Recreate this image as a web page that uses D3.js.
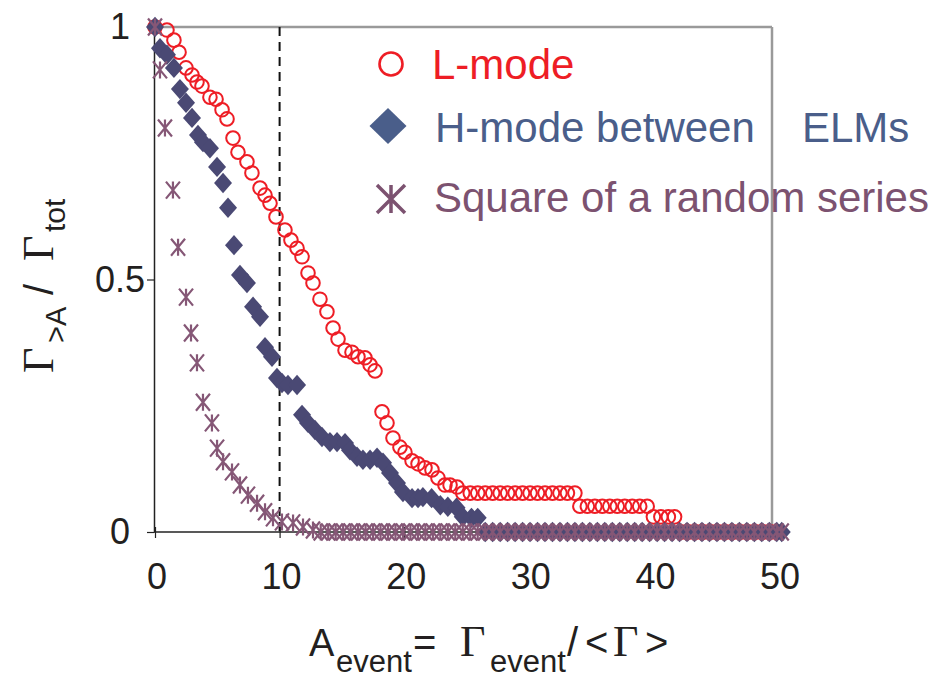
<!DOCTYPE html>
<html>
<head>
<meta charset="utf-8">
<script src="https://cdn.jsdelivr.net/npm/d3@7"></script>
<style>
  body { margin: 0; background: #fff; }
  svg { display: block; font-family: "Liberation Sans", Arial, sans-serif; }
</style>
</head>
<body>
<div id="chart"></div>
<script>
// data: [A_event, fraction]
const lMode = [
  [0, 1.0], [0.96, 0.994], [1.52, 0.974], [1.93, 0.95], [2.49, 0.919], [2.97, 0.905],
  [3.37, 0.891], [3.77, 0.883], [4.41, 0.861], [4.9, 0.857], [5.38, 0.836], [5.78, 0.818],
  [6.26, 0.78], [6.66, 0.752], [7.38, 0.733], [7.78, 0.711], [8.43, 0.681], [8.83, 0.667],
  [9.23, 0.651], [9.71, 0.624], [10.43, 0.598], [10.91, 0.578], [11.4, 0.562], [11.8, 0.545],
  [12.28, 0.513], [12.68, 0.493], [13.24, 0.461], [13.8, 0.436], [14.29, 0.404], [14.69, 0.382],
  [15.25, 0.36], [15.81, 0.356], [16.29, 0.347], [16.85, 0.345], [17.26, 0.331], [17.66, 0.319],
  [18.22, 0.238], [18.62, 0.216], [19.1, 0.186], [19.66, 0.168], [20.06, 0.158], [20.63, 0.141],
  [21.11, 0.135], [21.67, 0.127], [22.23, 0.123], [22.71, 0.107], [23.27, 0.093], [23.68, 0.093],
  [24.24, 0.089], [24.7, 0.077], [25.3, 0.077], [25.9, 0.077], [26.5, 0.077], [27.1, 0.077],
  [27.7, 0.077], [28.3, 0.077], [28.9, 0.077], [29.5, 0.077], [30.1, 0.077], [30.7, 0.077],
  [31.3, 0.077], [31.9, 0.077], [32.5, 0.077], [33.1, 0.077], [33.7, 0.077], [34.1, 0.051],
  [34.7, 0.051], [35.3, 0.051], [35.9, 0.051], [36.5, 0.051], [37.1, 0.051], [37.7, 0.051],
  [38.3, 0.051], [38.9, 0.051], [39.5, 0.051], [40.0, 0.03], [40.6, 0.03], [41.2, 0.03],
  [41.7, 0.03], [42.3, 0], [42.9, 0], [43.5, 0], [44.1, 0], [44.7, 0], [45.3, 0], [45.9, 0],
  [46.5, 0], [47.1, 0], [47.7, 0], [48.3, 0], [48.9, 0], [49.5, 0], [50, 0]
];

const hMode = [
  [0, 1.0], [0.4, 0.958], [0.96, 0.945], [1.52, 0.919], [2.0, 0.877], [2.49, 0.85],
  [2.97, 0.82], [3.45, 0.786], [3.85, 0.772], [4.41, 0.76], [4.98, 0.723], [5.46, 0.691],
  [5.86, 0.642], [6.34, 0.568], [6.82, 0.509], [7.38, 0.493], [7.87, 0.446], [8.43, 0.426],
  [8.83, 0.366], [9.39, 0.347], [9.79, 0.305], [10.19, 0.295], [10.67, 0.291], [11.4, 0.291],
  [11.8, 0.232], [12.28, 0.216], [12.84, 0.202], [13.4, 0.188], [14.04, 0.178], [14.61, 0.178],
  [15.25, 0.176], [15.65, 0.162], [16.21, 0.149], [16.69, 0.143], [17.26, 0.143], [17.82, 0.147],
  [18.3, 0.137], [18.86, 0.117], [19.42, 0.097], [19.9, 0.079], [20.63, 0.067], [21.11, 0.067],
  [21.5, 0.069], [22.2, 0.067], [22.9, 0.053], [23.5, 0.05], [24.2, 0.048], [24.7, 0.03],
  [25.4, 0.028], [25.9, 0.028], [26.5, 0], [27.1, 0], [27.7, 0], [28.3, 0], [28.9, 0],
  [29.5, 0], [30.1, 0], [30.7, 0], [31.3, 0], [31.9, 0], [32.5, 0], [33.1, 0], [33.7, 0],
  [34.3, 0], [34.9, 0], [35.5, 0], [36.1, 0], [36.7, 0], [37.3, 0], [37.9, 0], [38.5, 0],
  [39.1, 0], [39.7, 0], [40.3, 0], [40.9, 0], [41.5, 0], [42.1, 0], [42.7, 0], [43.3, 0],
  [43.9, 0], [44.5, 0], [45.1, 0], [45.7, 0], [46.3, 0], [46.9, 0], [47.5, 0], [48.1, 0],
  [48.7, 0], [49.3, 0], [49.9, 0], [50.3, 0]
];

const randomSq = [
  [0, 1.0], [0.4, 0.915], [0.8, 0.8], [1.44, 0.677], [1.85, 0.564], [2.49, 0.465],
  [2.89, 0.394], [3.37, 0.335], [3.85, 0.257], [4.57, 0.216], [4.98, 0.166], [5.46, 0.139],
  [6.18, 0.119], [6.82, 0.093], [7.46, 0.073], [8.19, 0.057], [8.83, 0.04], [9.47, 0.028],
  [10.19, 0.02], [11.08, 0.018], [11.88, 0.01], [12.68, 0.004], [13.3, 0], [13.9, 0],
  [14.5, 0], [15.1, 0], [15.7, 0], [16.3, 0], [16.9, 0], [17.5, 0], [18.1, 0], [18.7, 0],
  [19.3, 0], [19.9, 0], [20.5, 0], [21.1, 0], [21.7, 0], [22.3, 0], [22.9, 0], [23.5, 0],
  [24.1, 0], [24.7, 0], [25.3, 0], [25.9, 0], [26.5, 0], [27.1, 0], [27.7, 0], [28.3, 0],
  [28.9, 0], [29.5, 0], [30.1, 0], [30.7, 0], [31.3, 0], [31.9, 0], [32.5, 0], [33.1, 0],
  [33.7, 0], [34.3, 0], [34.9, 0], [35.5, 0], [36.1, 0], [36.7, 0], [37.3, 0], [37.9, 0],
  [38.5, 0], [39.1, 0], [39.7, 0], [40.3, 0], [40.9, 0], [41.5, 0], [42.1, 0], [42.7, 0],
  [43.3, 0], [43.9, 0], [44.5, 0], [45.1, 0], [45.7, 0], [46.3, 0], [46.9, 0], [47.5, 0],
  [48.1, 0], [48.7, 0], [49.3, 0], [49.9, 0], [50.3, 0]
];

const xTicks = [0, 10, 20, 30, 40, 50];
const yTicks = [0, 0.5, 1];
const yTickLabels = ["0", "0.5", "1"];
const cutoff = 10; // dashed line
const legendLabels = ["L-mode", "H-mode between", "Square of a random series"];

// layout
const W = 947, H = 683;
const plot = {left: 154, right: 772, top: 27, bottom: 532};
const colors = {
  red: "#ee1d25",
  diamond: "#4a4974",
  diamondLegend: "#4a5e8a",
  star: "#855776",
  starLegend: "#7c5270"
};

const svg = d3.select("#chart").append("svg")
  .attr("width", W).attr("height", H);

const x = d3.scaleLinear().domain([0, 50]).range([155, 778]);
const y = d3.scaleLinear().domain([0, 1]).range([plot.bottom, plot.top]);

// frame: grey top/right, black left/bottom
svg.append("line").attr("x1", plot.left).attr("x2", plot.right)
  .attr("y1", plot.top).attr("y2", plot.top)
  .attr("stroke", "#9a9a9a").attr("stroke-width", 2.5);
svg.append("line").attr("x1", plot.right).attr("x2", plot.right)
  .attr("y1", plot.top).attr("y2", plot.bottom)
  .attr("stroke", "#9a9a9a").attr("stroke-width", 2.5);

// x axis
const xAxis = svg.append("g")
  .attr("transform", `translate(0,${plot.bottom})`)
  .call(d3.axisBottom(x).tickValues(xTicks).tickSize(6).tickSizeOuter(0).tickFormat(d3.format("d")));
xAxis.select(".domain").attr("d", `M${plot.left},0H${plot.right}`).attr("stroke", "#222").attr("stroke-width", 1.5);
xAxis.selectAll(".tick line").attr("y1", -5).attr("y2", 6).attr("stroke", "#222").attr("stroke-width", 1.2);
xAxis.selectAll(".tick text")
  .attr("y", 57).attr("dy", 0).attr("dx", 1.5)
  .attr("fill", "#231f20")
  .style("font-size", "36px").style("font-family", "'Liberation Sans', Arial, sans-serif");

// y axis
const yAxis = svg.append("g")
  .attr("transform", `translate(${plot.left},0)`)
  .call(d3.axisLeft(y).tickValues(yTicks).tickSize(7).tickSizeOuter(0)
    .tickFormat((d, i) => yTickLabels[i]));
yAxis.select(".domain").attr("stroke", "#222").attr("stroke-width", 1.5);
yAxis.selectAll(".tick line").attr("stroke", "#222").attr("stroke-width", 1.2);
yAxis.selectAll(".tick text")
  .attr("text-anchor", "middle").attr("x", -34).attr("dy", "0.33em")
  .attr("fill", "#231f20")
  .style("font-size", "36px").style("font-family", "'Liberation Sans', Arial, sans-serif");

// dashed cutoff line
svg.append("line")
  .attr("x1", x(cutoff)).attr("x2", x(cutoff))
  .attr("y1", plot.top).attr("y2", plot.bottom)
  .attr("stroke", "#111").attr("stroke-width", 2)
  .attr("stroke-dasharray", "9,6");

// marker shapes
function diamondPath(hw, hh) {
  return `M0,${-hh}L${hw},0L0,${hh}L${-hw},0Z`;
}
function starPath(hw, hh) {
  return `M0,${-hh}V${hh}M${-hw},${-hh}L${hw},${hh}M${hw},${-hh}L${-hw},${hh}`;
}

// L-mode circles (bottom layer)
svg.append("g").selectAll("circle")
  .data(lMode).enter().append("circle")
  .attr("cx", d => x(d[0])).attr("cy", d => y(d[1]))
  .attr("r", 6.8)
  .attr("fill", "none").attr("stroke", colors.red).attr("stroke-width", 2);

// H-mode diamonds
svg.append("g").selectAll("path")
  .data(hMode).enter().append("path")
  .attr("transform", d => `translate(${x(d[0])},${y(d[1])})`)
  .attr("d", diamondPath(9, 10.2))
  .attr("fill", colors.diamond);

// random series asterisks (top)
svg.append("g").selectAll("path")
  .data(randomSq).enter().append("path")
  .attr("transform", d => `translate(${x(d[0])},${y(d[1])})`)
  .attr("d", starPath(7, 8.5))
  .attr("fill", "none").attr("stroke", colors.star).attr("stroke-width", 2.2);

// legend
const legend = svg.append("g").style("font-size", "42px");
legend.append("circle").attr("cx", 391).attr("cy", 64).attr("r", 11.5)
  .attr("fill", "none").attr("stroke", colors.red).attr("stroke-width", 2.6);
legend.append("text").attr("x", 432).attr("y", 79).attr("fill", colors.red).text(legendLabels[0]);

legend.append("path").attr("transform", "translate(388,126)")
  .attr("d", diamondPath(18.5, 18)).attr("fill", colors.diamondLegend);
const hText = legend.append("text").attr("x", 435).attr("y", 142).attr("fill", colors.diamondLegend);
hText.append("tspan").text(legendLabels[1]);
hText.append("tspan").attr("x", 802).text("ELMs");

legend.append("path").attr("transform", "translate(391,199)")
  .attr("d", starPath(14, 14)).attr("fill", "none")
  .attr("stroke", colors.starLegend).attr("stroke-width", 3.5);
legend.append("text").attr("x", 434).attr("y", 212).attr("fill", colors.starLegend).text(legendLabels[2]);

// x axis title: A_event = Γ_event / <Γ>
const serif = "'Liberation Serif', 'Times New Roman', serif";
const xt = svg.append("text").attr("y", 656).attr("fill", "#231f20");
xt.append("tspan").attr("x", 309).style("font-size", "38px").text("A");
xt.append("tspan").attr("x", 336).attr("dy", 16).style("font-size", "31px").text("event");
xt.append("tspan").attr("x", 413).attr("dy", -16).style("font-size", "40px").text("=");
xt.append("tspan").attr("x", 460).style("font-size", "44px").style("font-family", serif).text("Γ");
xt.append("tspan").attr("x", 490).attr("dy", 16).style("font-size", "31px").text("event");
xt.append("tspan").attr("x", 567).attr("dy", -16).style("font-size", "40px").text("/");
xt.append("tspan").attr("x", 585).style("font-size", "40px").text("<");
xt.append("tspan").attr("x", 613).style("font-size", "44px").style("font-family", serif).text("Γ");
xt.append("tspan").attr("x", 645).style("font-size", "40px").text(">");

// y axis title: Γ_>A / Γ_tot (rotated)
const yt = svg.append("text")
  .attr("transform", "translate(53,373) rotate(-90)")
  .attr("fill", "#231f20");
yt.append("tspan").attr("x", 0).style("font-size", "44px").style("font-family", serif).text("Γ");
yt.append("tspan").attr("x", 30).attr("dy", 13).style("font-size", "29px").text(">A");
yt.append("tspan").attr("x", 78).attr("dy", -13).style("font-size", "40px").text("/");
yt.append("tspan").attr("x", 112).style("font-size", "44px").style("font-family", serif).text("Γ");
yt.append("tspan").attr("x", 141).attr("dy", 12).style("font-size", "30px").text("tot");
</script>
</body>
</html>
